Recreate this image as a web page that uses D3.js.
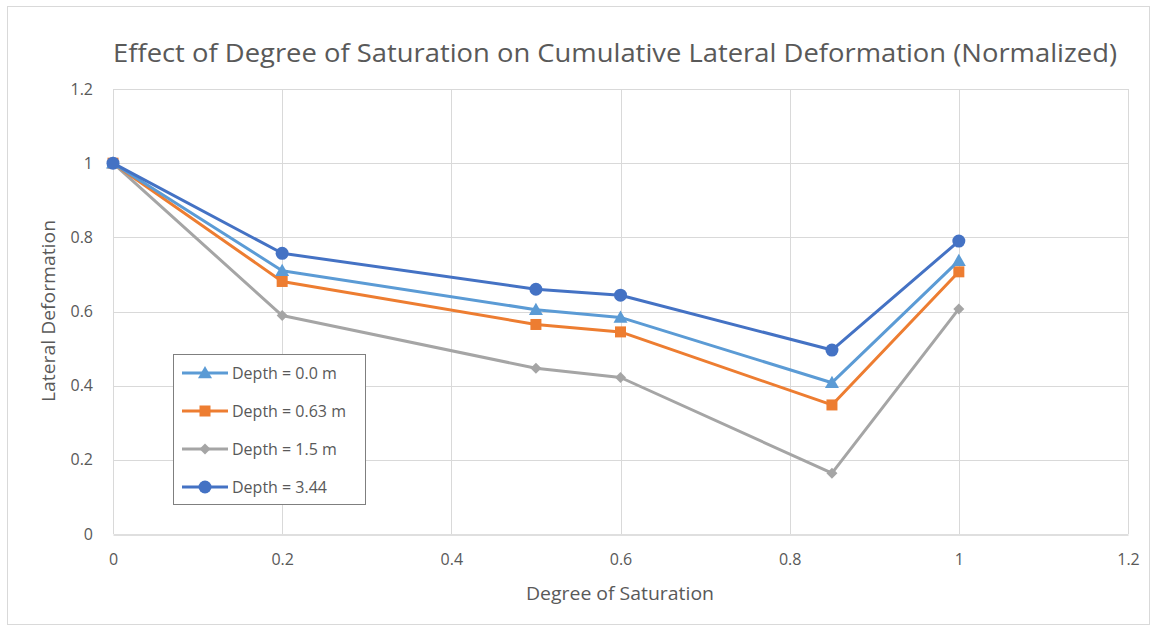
<!DOCTYPE html>
<html>
<head>
<meta charset="utf-8">
<script src="https://cdn.jsdelivr.net/npm/d3@7"></script>
<style>
  html, body { margin: 0; padding: 0; background: #fff; }
  svg { display: block; }
  text { font-family: "Open Sans", "Noto Sans", "Liberation Sans", sans-serif; fill: #595959; }
</style>
</head>
<body>
<svg id="chart" width="1154" height="630"></svg>
<script>
const saturation = [0, 0.2, 0.5, 0.6, 0.85, 1];
const seriesNames = ["Depth = 0.0 m", "Depth = 0.63 m", "Depth = 1.5 m", "Depth = 3.44"];
const depth00 = [1, 0.710, 0.605, 0.584, 0.408, 0.737];
const depth063 = [1, 0.681, 0.565, 0.545, 0.348, 0.707];
const depth15 = [1, 0.589, 0.447, 0.422, 0.164, 0.607];
const depth344 = [1, 0.757, 0.660, 0.644, 0.496, 0.790];
const xTicks = [0, 0.2, 0.4, 0.6, 0.8, 1, 1.2];
const yTicks = [0, 0.2, 0.4, 0.6, 0.8, 1, 1.2];
const colors = ["#5B9BD5", "#ED7D31", "#A5A5A5", "#4472C4"];
const markers = ["triangle", "square", "diamond", "circle"];

const seriesValues = [depth00, depth063, depth15, depth344];

const svg = d3.select("#chart");
const plot = { left: 113, right: 1128, top: 89, bottom: 534 };

// outer border
svg.append("rect").attr("x", 7.5).attr("y", 6.5).attr("width", 1142).attr("height", 618)
  .attr("fill", "#fff").attr("stroke", "#d9d9d9").attr("stroke-width", 1);

const x = d3.scaleLinear().domain([0, 1.2]).range([plot.left, plot.right]);
const y = d3.scaleLinear().domain([0, 1.2]).range([plot.bottom, plot.top]);

// gridlines
const grid = svg.append("g");
grid.selectAll(".vg").data(xTicks).join("line")
  .attr("x1", d => Math.round(x(d)) + 0.5).attr("x2", d => Math.round(x(d)) + 0.5)
  .attr("y1", plot.top).attr("y2", plot.bottom)
  .attr("stroke", "#d9d9d9").attr("stroke-width", 1);
grid.selectAll(".hg").data(yTicks.filter(d => d > 0)).join("line")
  .attr("x1", plot.left).attr("x2", plot.right)
  .attr("y1", d => Math.round(y(d)) + 0.5).attr("y2", d => Math.round(y(d)) + 0.5)
  .attr("stroke", "#d9d9d9").attr("stroke-width", 1);

// axes
const fmt = d => String(+d.toFixed(2));
const xAxis = svg.append("g").attr("transform", `translate(0,${plot.bottom + 0.5})`)
  .call(d3.axisBottom(x).tickValues(xTicks).tickFormat(fmt).tickSize(0).tickPadding(19));
xAxis.select(".domain").attr("stroke", "#bfbfbf");
xAxis.selectAll("text").style("font-size", "16px").attr("fill", "#595959");

const yAxis = svg.append("g").attr("transform", `translate(${plot.left},0)`)
  .call(d3.axisLeft(y).tickValues(yTicks).tickFormat(fmt).tickSize(0).tickPadding(20));
yAxis.select(".domain").remove();
yAxis.selectAll("text").style("font-size", "16px").attr("fill", "#595959");

// titles
svg.append("text").attr("x", 615).attr("y", 62).attr("text-anchor", "middle")
  .style("font-size", "25px").attr("textLength", 1004).attr("lengthAdjust", "spacingAndGlyphs")
  .text("Effect of Degree of Saturation on Cumulative Lateral Deformation (Normalized)");
svg.append("text").attr("x", 620).attr("y", 600).attr("text-anchor", "middle")
  .style("font-size", "18px").attr("textLength", 188).attr("lengthAdjust", "spacingAndGlyphs")
  .text("Degree of Saturation");
svg.append("text").attr("transform", "translate(55,311) rotate(-90)").attr("text-anchor", "middle")
  .style("font-size", "18px").attr("textLength", 182).attr("lengthAdjust", "spacingAndGlyphs")
  .text("Lateral Deformation");

// markers
function drawMarker(g, type, cx, cy, color) {
  if (type === "triangle") {
    const s = 7;
    g.append("path").attr("d", `M${cx},${cy - s} L${cx + s},${cy + s * 0.75} L${cx - s},${cy + s * 0.75} Z`).attr("fill", color);
  } else if (type === "square") {
    g.append("rect").attr("x", cx - 5.5).attr("y", cy - 5.5).attr("width", 11).attr("height", 11).attr("fill", color);
  } else if (type === "diamond") {
    const s = 5.5;
    g.append("path").attr("d", `M${cx},${cy - s} L${cx + s},${cy} L${cx},${cy + s} L${cx - s},${cy} Z`).attr("fill", color);
  } else {
    g.append("circle").attr("cx", cx).attr("cy", cy).attr("r", 6.5).attr("fill", color);
  }
}

const line = d3.line().x(d => x(d[0])).y(d => y(d[1]));
const drawOrder = [2, 1, 0, 3];
drawOrder.forEach(i => {
  const pts = saturation.map((s, j) => [s, seriesValues[i][j]]);
  const g = svg.append("g");
  g.append("path").datum(pts).attr("d", line).attr("fill", "none")
    .attr("stroke", colors[i]).attr("stroke-width", 3).attr("stroke-linejoin", "round");
  pts.forEach(p => drawMarker(g, markers[i], x(p[0]), y(p[1]), colors[i]));
});

// legend
const lg = svg.append("g");
lg.append("rect").attr("x", 173.5).attr("y", 354.5).attr("width", 192).attr("height", 150)
  .attr("fill", "#fff").attr("stroke", "#7f7f7f").attr("stroke-width", 1);
const legendY = [373, 411, 449, 487];
seriesNames.forEach((name, i) => {
  const ly = legendY[i];
  lg.append("line").attr("x1", 182).attr("x2", 228).attr("y1", ly).attr("y2", ly)
    .attr("stroke", colors[i]).attr("stroke-width", 3);
  drawMarker(lg, markers[i], 205, ly, colors[i]);
  lg.append("text").attr("x", 232).attr("y", ly + 6).style("font-size", "16px").text(name);
});
</script>
</body>
</html>
